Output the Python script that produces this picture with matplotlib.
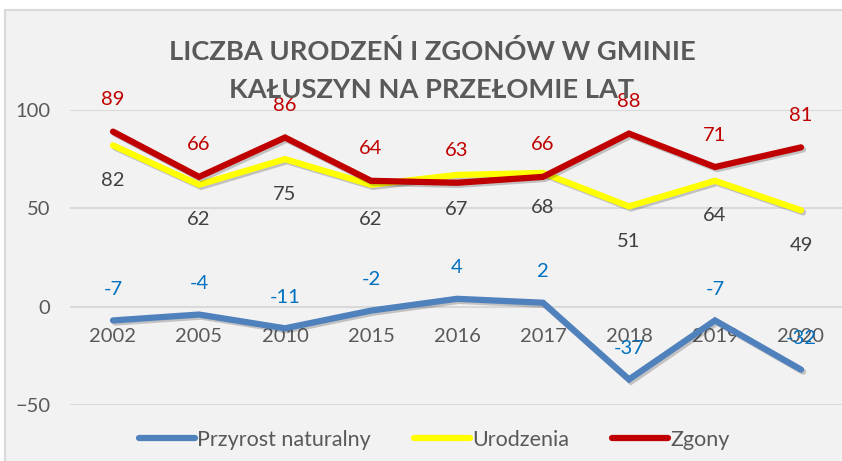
import matplotlib
matplotlib.use("Agg")
import matplotlib.pyplot as plt
import matplotlib.patheffects as pe
from matplotlib.patches import Rectangle
from matplotlib.lines import Line2D

plt.rcParams['font.family'] = ['Lato', 'DejaVu Sans']

# dane
years = ['2002', '2005', '2010', '2015', '2016', '2017', '2018', '2019', '2020']
przyrost = [-7, -4, -11, -2, 4, 2, -37, -7, -32]
urodzenia = [82, 62, 75, 62, 67, 68, 51, 64, 49]
zgony = [89, 66, 86, 64, 63, 66, 88, 71, 81]

BG = '#f2f2f2'
GRID = '#d9d9d9'
TXT = '#595959'

fig = plt.figure(figsize=(8.42, 4.61), dpi=100)
fig.patch.set_facecolor('white')
# ramka wykresu
fig.patches.append(Rectangle((4.5 / 842, -0.05), 1.1, (461 - 10) / 461 + 0.05,
                             transform=fig.transFigure, facecolor=BG,
                             edgecolor=GRID, linewidth=1.5, zorder=0))

ax = fig.add_axes([70 / 842, 56 / 461, 774 / 842, 295 / 461])
ax.set_zorder(2)
ax.set_facecolor('none')
x = list(range(len(years)))
ax.set_xlim(-0.5, len(years) - 0.5)
ax.set_ylim(-50, 100)
ax.set_yticks([-50, 0, 50, 100])
ax.set_xticks([])
for s in ax.spines.values():
    s.set_visible(False)
ax.grid(axis='y', color=GRID, linewidth=1.5)
ax.set_axisbelow(True)
ax.tick_params(axis='y', length=0, pad=14, labelsize=14.5, labelcolor=TXT)

shadow = [pe.SimpleLineShadow(offset=(1.5, -1.5), alpha=0.2, shadow_color='black'), pe.Normal()]
series = [
    ('Przyrost naturalny', przyrost, '#4f81bd', '#0070c0', 31),
    ('Urodzenia', urodzenia, '#ffff00', '#404040', -35),
    ('Zgony', zgony, '#c00000', '#c00000', 32),
]
for name, vals, col, lcol, off in series:
    ax.plot(x, vals, color=col, linewidth=4.5, solid_capstyle='round',
            solid_joinstyle='miter', path_effects=shadow, zorder=3, label=name)

# etykiety osi X przy linii zera
for i, yr in enumerate(years):
    ax.annotate(yr, xy=(i, 0), xytext=(0, -30), textcoords='offset pixels',
                ha='center', va='center', fontsize=14.5, color=TXT, zorder=2)

for name, vals, col, lcol, off in series:
    for i, v in enumerate(vals):
        ax.annotate(str(v), xy=(i, v), xytext=(0, off), textcoords='offset pixels',
                    ha='center', va='center', fontsize=14.5, color=lcol, zorder=5)

fig.text(0.513, 1 - 52 / 461, 'LICZBA URODZEŃ I ZGONÓW W GMINIE', ha='center', va='center',
         fontsize=19.6, fontweight='bold', color=TXT)
fig.text(0.513, 1 - 90 / 461, 'KAŁUSZYN NA PRZEŁOMIE LAT', ha='center', va='center',
         fontsize=19.6, fontweight='bold', color=TXT)

handles = [Line2D([], [], color=c, linewidth=4.5, solid_capstyle='round') for _, _, c, _, _ in series]
leg = fig.legend(handles, [s[0] for s in series], loc='center', ncol=3,
                 bbox_to_anchor=(434 / 842, 1 - 440 / 461), frameon=False,
                 fontsize=15.5, labelcolor=TXT, handlelength=2.6, handletextpad=0.1,
                 columnspacing=2.0)

fig.savefig('out.png', dpi=100)
